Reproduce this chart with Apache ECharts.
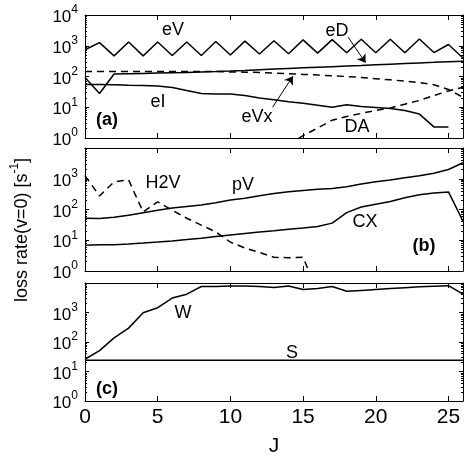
<!DOCTYPE html>
<html>
<head>
<meta charset="utf-8">
<script src="https://cdn.jsdelivr.net/npm/echarts@6/dist/echarts.min.js"></script>
<style>
  html, body { margin: 0; padding: 0; background: #fff; }
  #chart { width: 464px; height: 458px; }
</style>
</head>
<body>
<div id="chart"></div>
<script>
// rotational level J
var J = [0,1,2,3,4,5,6,7,8,9,10,11,12,13,14,15,16,17,18,19,20,21,22,23,24,25,26];

// panel (a): electron processes
var eV  = [740,1260,470,1320,470,1320,480,1320,480,1380,500,1410,540,1450,550,1550,575,1580,590,1620,590,1620,590,1660,600,1100,400];
var eD  = [93,28,120,123,126,129,132,135,141,145,151,158,166,174,182,191,200,209,219,229,240,251,263,275,288,302,316];
var eVx = [145,145,145,145,145,145,145,145,145,145,141,138,135,129,123,117,112,105,100,93,85,78,71,63,54,38,21];
var eI  = [55,55,54,52,51,49,44,35,28,27,27,24,20,17.4,15,13.5,11.7,10,12,10.5,9.8,9.1,7.9,6,2.3,2.3,null];
var DA  = [null,null,null,null,null,null,null,null,null,null,null,null,null,null,0.6,1.2,2.1,3.8,5,6.3,7.9,9.5,12.6,16.6,24,34,45];

// panel (b): proton / molecule processes
var pV  = [52,51,56,65,79,95,112,126,141,166,204,234,282,331,380,417,457,479,550,676,794,912,1070,1260,1510,2000,3310];
var CX  = [6.9,7.1,7.2,7.6,8.1,8.7,9.5,10.5,11.7,13.2,14.8,16.6,18.6,20.4,22.9,25,28,36,79,120,148,182,240,302,347,372,42];
var H2V = [1260,275,794,912,83,178,95,52,31,18.6,8.7,5.6,4,2.8,2.7,2.8,0.2,null,null,null,null,null,null,null,null,null,null];

// panel (c): wall and S
var W = [26,51,138,295,977,1450,3090,4170,7590,7590,7940,7940,7590,7080,7940,6030,6460,7590,5250,5620,6030,6460,6920,7410,7760,8130,4170];
var S = [24,24,24,24,24,24,24,24,24,24,24,24,24,24,24,24,24,24,24,24,24,24,24,24,24,24,24];

// axis ticks
var xTicks = [0,5,10,15,20,25];
var yMajor = [1,10,100,1000,10000];
var yMinor = [];
for (var d = 1; d < 10000; d *= 10) {
  for (var m = 2; m <= 9; m++) yMinor.push(m * d);
}

var FONT = 'Liberation Sans, Arial, Helvetica, sans-serif';

var grids = [
  {left: 85, top: 15, width: 378, height: 123},
  {left: 85, top: 148, width: 378, height: 123},
  {left: 85, top: 283, width: 378, height: 122}
];

var xAxes = [], yAxes = [];
grids.forEach(function (g, i) {
  var last = i === grids.length - 1;
  ['bottom', 'top'].forEach(function (pos) {
    xAxes.push({
      type: 'value', gridIndex: i, position: pos, min: 0, max: 26,
      axisLine: {show: true, onZero: false, lineStyle: {color: '#000', width: 1}},
      axisTick: {show: true, inside: true, length: 5, customValues: xTicks, lineStyle: {color: '#000'}},
      axisLabel: {show: last && pos === 'bottom', customValues: xTicks, margin: 6,
        color: '#000', fontSize: 21, fontFamily: FONT},
      splitLine: {show: false},
      name: last && pos === 'bottom' ? 'J' : '',
      nameLocation: 'middle', nameGap: 35,
      nameTextStyle: {color: '#000', fontSize: 21, fontFamily: FONT}
    });
  });
  var labels = i === 0 ? yMajor : yMajor.slice(0, 4);
  ['left', 'right'].forEach(function (pos) {
    yAxes.push({
      type: 'log', logBase: 10, gridIndex: i, position: pos, min: 1, max: 10000,
      axisLine: {show: true, lineStyle: {color: '#000', width: 1}},
      axisTick: {show: true, inside: true, length: 4, customValues: yMajor, lineStyle: {color: '#000'}},
      axisLabel: {
        show: pos === 'left', customValues: labels, margin: 7,
        formatter: function (v) {
          return '{b|10}{s|' + Math.round(Math.log10(v)) + '}';
        },
        rich: {
          b: {fontSize: 17, lineHeight: 22, fontFamily: FONT, color: '#000', verticalAlign: 'bottom'},
          s: {fontSize: 12, lineHeight: 12, fontFamily: FONT, color: '#000', verticalAlign: 'top'}
        }
      },
      splitLine: {show: false}
    });
    yAxes.push({
      type: 'log', logBase: 10, gridIndex: i, position: pos, min: 1, max: 10000,
      axisLine: {show: false},
      axisTick: {show: true, inside: true, length: 2, customValues: yMinor, lineStyle: {color: '#000'}},
      axisLabel: {show: false},
      splitLine: {show: false}
    });
  });
});

function pairs(arr) {
  var out = [];
  J.forEach(function (j, k) {
    if (arr[k] != null) out.push([j, arr[k]]);
  });
  return out;
}

function line(name, arr, panel, dashed, extra) {
  var s = {
    name: name, type: 'line', xAxisIndex: panel * 2, yAxisIndex: panel * 4,
    data: pairs(arr), showSymbol: false, symbol: 'none', clip: true,
    lineStyle: {color: '#000', width: 1.5, type: dashed ? [7, 5] : 'solid'},
    itemStyle: {color: '#000'}
  };
  if (extra) Object.assign(s, extra);
  return s;
}

function arrow(from, to) {
  return {
    silent: true, symbol: ['none', 'arrow'], symbolSize: 8,
    lineStyle: {color: '#000', width: 1, type: 'solid'},
    itemStyle: {color: '#000'},
    label: {show: false},
    emphasis: {disabled: true},
    data: [[{coord: from}, {coord: to}]]
  };
}

var series = [
  line('eV', eV, 0, false),
  line('eD', eD, 0, false, {markLine: arrow([18.1, 1900], [19.3, 280])}),
  line('eVx', eVx, 0, true, {markLine: arrow([12.9, 10], [14.3, 102])}),
  line('eI', eI, 0, false),
  line('DA', DA, 0, true),
  line('pV', pV, 1, false),
  line('CX', CX, 1, false),
  line('H2V', H2V, 1, true),
  line('W', W, 2, false),
  line('S', S, 2, false)
];

function label(text, x, y, bold) {
  return {
    type: 'text', x: x, y: y, silent: true,
    style: {text: text, fill: '#000', font: (bold ? 'bold ' : '') + '18px ' + FONT,
      align: 'center', verticalAlign: 'middle'}
  };
}

var graphics = [
  label('eV', 173, 30), label('eD', 337, 31), label('eI', 158, 102),
  label('eVx', 257, 117), label('DA', 357, 127), label('(a)', 107, 120, true),
  label('H2V', 163, 183), label('pV', 243, 185), label('CX', 365, 222),
  label('(b)', 424, 246, true),
  label('W', 183, 313), label('S', 292, 353), label('(c)', 107, 389, true),
  {
    type: 'text', x: 20, y: 230, rotation: Math.PI / 2, silent: true,
    style: {
      text: '{b|loss rate(v=0) [s}{s|-1}{b|]}', align: 'center', verticalAlign: 'middle',
      rich: {
        b: {fontSize: 18, lineHeight: 22, fontFamily: FONT, fill: '#000', verticalAlign: 'bottom'},
        s: {fontSize: 12, lineHeight: 12, fontFamily: FONT, fill: '#000', verticalAlign: 'top'}
      }
    }
  }
];

var chart = echarts.init(document.getElementById('chart'), null, {renderer: 'canvas'});
chart.setOption({
  animation: false,
  backgroundColor: '#fff',
  grid: grids,
  xAxis: xAxes,
  yAxis: yAxes,
  series: series,
  graphic: graphics
});
</script>
</body>
</html>
